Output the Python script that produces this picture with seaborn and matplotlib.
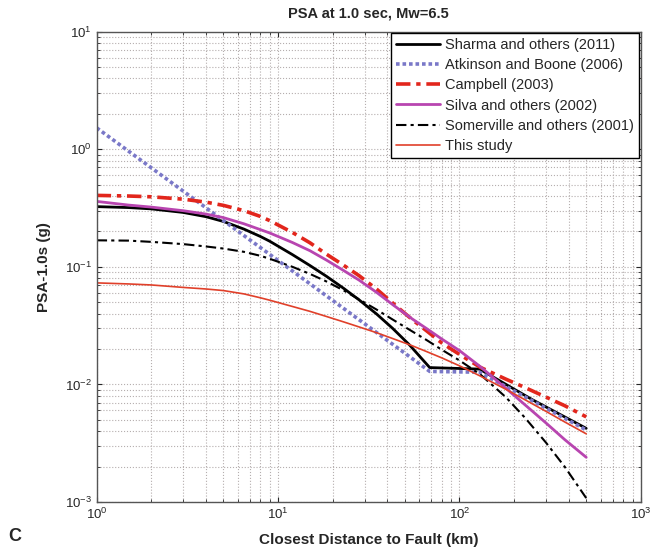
import numpy as np
import pandas as pd
import seaborn as sns
import matplotlib
matplotlib.use("Agg")
import matplotlib.pyplot as plt

# distances (km) shared by the smooth models
dist = [1, 1.5, 2, 3, 4, 5, 6.5, 8, 9, 12, 15, 18.5, 23, 28, 35, 43, 55, 66, 80,
        100, 130, 180, 230, 300, 380, 500]

campbell = [0.405, 0.400, 0.394, 0.376, 0.355, 0.333, 0.30, 0.268, 0.247, 0.196, 0.160, 0.128,
            0.103, 0.084, 0.0645, 0.049, 0.0355, 0.0285, 0.0225, 0.0180, 0.0140, 0.0111,
            0.0094, 0.0078, 0.0066, 0.0053]
silva = [0.36, 0.335, 0.322, 0.30, 0.281, 0.262, 0.232, 0.207, 0.194, 0.161, 0.137, 0.114,
         0.093, 0.077, 0.0605, 0.0475, 0.036, 0.0298, 0.0243, 0.0194, 0.0142, 0.0093,
         0.0067, 0.0047, 0.0034, 0.0024]
somerville = [0.168, 0.167, 0.163, 0.156, 0.149, 0.143, 0.134, 0.124, 0.117, 0.100, 0.087,
              0.075, 0.063, 0.0528, 0.0432, 0.0355, 0.0282, 0.0238, 0.0197, 0.0160, 0.0122,
              0.0078, 0.0052, 0.0032, 0.0020, 0.00108]
this_study = [0.073, 0.0715, 0.0701, 0.0668, 0.0648, 0.0628, 0.0588, 0.0545, 0.0520, 0.0460,
              0.0418, 0.0378, 0.0340, 0.0308, 0.0275, 0.0245, 0.0213, 0.0190, 0.0168, 0.0144,
              0.0118, 0.0091, 0.0074, 0.0059, 0.0048, 0.0038]

# piecewise models have their own knots
sharma_dist = [1, 1.5, 2, 3, 4, 5, 6.5, 8, 9, 12, 15, 18.5, 23, 28, 35, 43, 53, 68.6, 129, 253, 500]
sharma = [0.325, 0.319, 0.311, 0.29, 0.267, 0.243, 0.209, 0.181, 0.165, 0.127, 0.1025,
          0.083, 0.0656, 0.0523, 0.0396, 0.0298, 0.0217, 0.0139, 0.0135, 0.0074, 0.00423]
atkinson_dist = [1, 68.6, 129, 500]
atkinson = [1.52, 0.0129, 0.0127, 0.0041]

labels = ["Sharma and others (2011)", "Atkinson and Boone (2006)", "Campbell (2003)",
          "Silva and others (2002)", "Somerville and others (2001)", "This study"]

sns.set_style("ticks")
plt.rcParams["font.family"] = ["Liberation Sans", "DejaVu Sans"]
plt.rcParams["mathtext.fontset"] = "custom"
plt.rcParams["mathtext.rm"] = "Liberation Sans"
plt.rcParams["axes.unicode_minus"] = False

fig = plt.figure(figsize=(6.62, 5.55), dpi=100)
ax = fig.add_axes([0.146, 0.0955, 0.822, 0.8475])

series = [
    (sharma_dist, sharma, dict(color="black", lw=2.0, linestyle="-")),
    (atkinson_dist, atkinson, dict(color="#7a78c8", lw=2.6, linestyle=(0, (1, 0.8)))),
    (dist, campbell, dict(color="#e2261c", lw=2.6, linestyle=(0, (4, 1.6, 1.2, 1.6)))),
    (dist, silva, dict(color="#b845b0", lw=2.0, linestyle="-")),
    (dist, somerville, dict(color="black", lw=1.5, linestyle=(0, (5, 2, 1.5, 2)))),
    (dist, this_study, dict(color="#e0402a", lw=1.2, linestyle="-")),
]
for (x, y, style), lab in zip(series, labels):
    df = pd.DataFrame({"dist": x, "psa": y})
    sns.lineplot(data=df, x="dist", y="psa", ax=ax, label=lab, **style)

ax.set_xscale("log")
ax.set_yscale("log")
ax.set_xlim(1, 1000)
ax.set_ylim(1e-3, 10)

ax.grid(True, which="both", color="#b5aeae", linestyle=":", linewidth=0.8)
ax.tick_params(which="both", direction="in", top=True, right=True, labelsize=9.5)
for s in ax.spines.values():
    s.set_color("#555555")
    s.set_linewidth(1.0)

ax.set_title("PSA at 1.0 sec, Mw=6.5", fontsize=10.5, fontweight="bold", pad=10)
ax.set_xlabel("Closest Distance to Fault (km)", fontsize=11, fontweight="bold", labelpad=8)
ax.set_ylabel("PSA-1.0s (g)", fontsize=11, fontweight="bold", labelpad=10)

leg = ax.legend(loc="upper right", fontsize=10.5, frameon=True, fancybox=False,
                borderaxespad=0.1, handlelength=3.0, handletextpad=0.4,
                labelspacing=0.42, borderpad=0.35)
leg.get_frame().set_edgecolor("black")
leg.get_frame().set_linewidth(1.0)
leg.get_frame().set_alpha(1.0)

fig.text(0.012, 0.025, "C", fontsize=13, fontweight="bold")

fig.savefig("out.png", dpi=100)
